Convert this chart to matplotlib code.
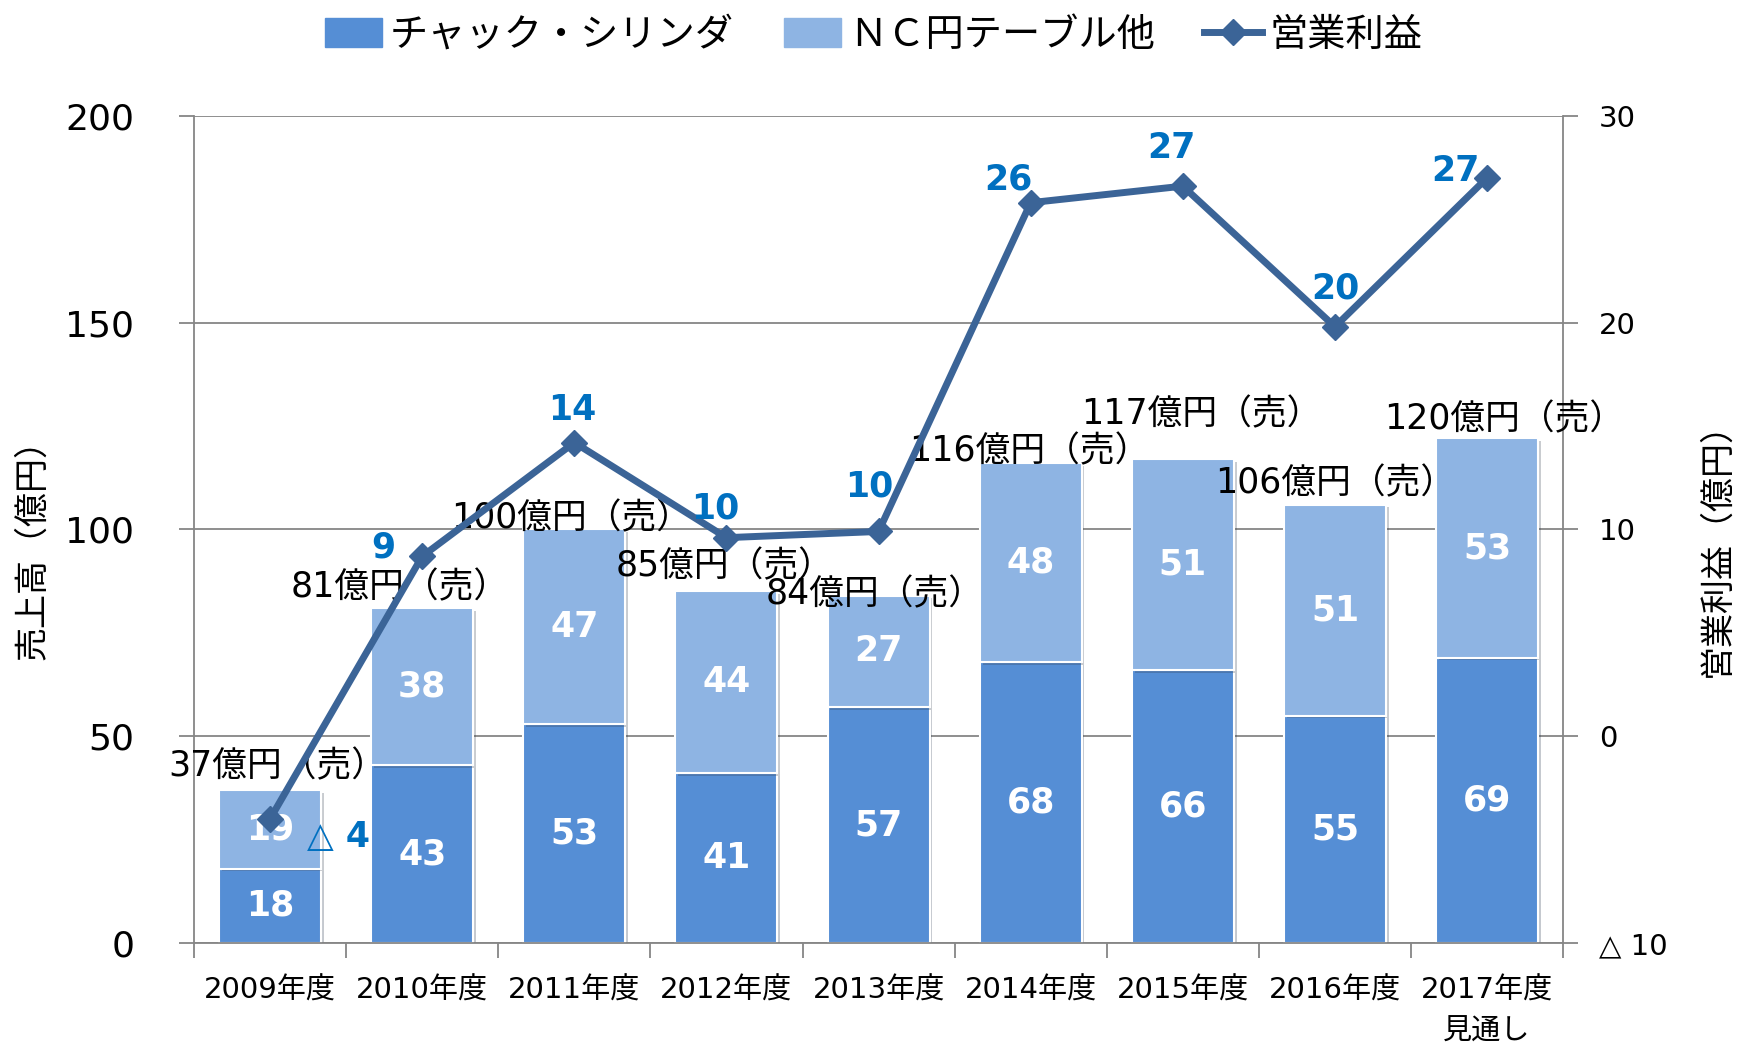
import numpy as np
import matplotlib.pyplot as plt
from matplotlib.patches import Patch
from matplotlib.lines import Line2D
import matplotlib.patheffects as pe

plt.rcParams['font.family'] = ['DejaVu Sans', 'Noto Sans CJK JP']

# データ
years = ['2009年度', '2010年度', '2011年度', '2012年度', '2013年度',
         '2014年度', '2015年度', '2016年度', '2017年度\n見通し']
chuck = [18, 43, 53, 41, 57, 68, 66, 55, 69]
nc_table = [19, 38, 47, 44, 27, 48, 51, 51, 53]
totals = [37, 81, 100, 85, 84, 116, 117, 106, 120]
profit = [-4.0, 8.7, 14.2, 9.6, 9.9, 25.8, 26.6, 19.8, 27.0]
profit_labels = ['△ 4', '9', '14', '10', '10', '26', '27', '20', '27']

# ラベル位置の調整 (pixel)
total_off = [(7, 24), (-23, 21), (-3, 11), (-2, 25), (-4, 1), (-1, 12), (18, 45), (0, 21), (17, 19)]
profit_off = [(68, -18), (-39, 9), (-2, 33), (-11, 29), (-9, 45), (-22, 23), (-11, 38), (0, 38), (-32, 7)]

c_dark = '#558ED5'
c_light = '#8EB4E3'
c_line = '#3B6497'
c_grid = '#868686'
c_blue = '#0070C0'

fig = plt.figure(figsize=(17.37, 10.53), dpi=100)
ax = fig.add_axes([0.1117, 0.1045, 0.7882, 0.7855])
x = np.arange(len(years))
w = 0.67

shadow = [pe.SimplePatchShadow(offset=(2, -2), alpha=0.25), pe.Normal()]
b1 = ax.bar(x, chuck, w, color=c_dark, edgecolor='white', linewidth=1.5, zorder=2)
b2 = ax.bar(x, nc_table, w, bottom=chuck, color=c_light, edgecolor='white', linewidth=1.5, zorder=2)
for b in list(b1) + list(b2):
    b.set_path_effects(shadow)

for i in range(len(x)):
    ax.text(x[i], chuck[i] / 2, str(chuck[i]), ha='center', va='center',
            color='white', fontsize=25, fontweight='bold', zorder=3)
    ax.text(x[i], chuck[i] + nc_table[i] / 2, str(nc_table[i]), ha='center', va='center',
            color='white', fontsize=25, fontweight='bold', zorder=3)
    ax.annotate(f'{totals[i]}億円（売）', (x[i], chuck[i] + nc_table[i]),
                xytext=total_off[i], textcoords='offset pixels',
                ha='center', va='center', fontsize=25, color='black', zorder=4)

ax.set_xlim(-0.5, len(x) - 0.5)
ax.set_ylim(0, 200)
ax.set_yticks([0, 50, 100, 150, 200])
ax.yaxis.grid(True, color=c_grid, linewidth=1.3)
ax.set_axisbelow(True)
ax.set_xticks(np.arange(len(x) + 1) - 0.5, minor=False)
ax.set_xticklabels([])
ax.set_xticks(x, minor=True)
ax.set_xticklabels(years, minor=True, fontsize=21, linespacing=1.6, va='top')
ax.tick_params(axis='x', which='minor', length=0, pad=24)
ax.tick_params(axis='x', which='major', length=11, width=1.3, color=c_grid)
ax.tick_params(axis='y', labelsize=26, length=11, width=1.3, color=c_grid, pad=32)
for s in ['left', 'bottom', 'right']:
    ax.spines[s].set_color(c_grid)
    ax.spines[s].set_linewidth(1.3)
ax.spines['top'].set_visible(False)

ax2 = ax.twinx()
ax2.set_ylim(-10, 30)
ax2.set_yticks([-10, 0, 10, 20, 30])
ax2.set_yticklabels(['△ 10', '0', '10', '20', '30'])
ax2.tick_params(axis='y', labelsize=21, length=11, width=1.3, color=c_grid, pad=15)
for s in ax2.spines.values():
    s.set_visible(False)
ax2.plot(x, profit, color=c_line, linewidth=5, marker='D', markersize=13, zorder=5)
for i in range(len(x)):
    ax2.annotate(profit_labels[i], (x[i], profit[i]), xytext=profit_off[i],
                 textcoords='offset pixels', ha='center', va='center',
                 fontsize=25, fontweight='bold', color=c_blue, zorder=6)

# 軸ラベル
fig.text(33 / 1737, 1 - 541 / 1053, '売上高（億円）', rotation=90,
         ha='center', va='center', fontsize=24.5)
fig.text(1717 / 1737, 1 - 541 / 1053, '営業利益（億円）', rotation=90,
         ha='center', va='center', fontsize=24.5)

handles = [Patch(color=c_dark), Patch(color=c_light),
           Line2D([0], [0], color=c_line, linewidth=5, marker='D', markersize=13)]
fig.legend(handles, ['チャック・シリンダ', 'ＮＣ円テーブル他', '営業利益'],
           loc='center', bbox_to_anchor=(0.503, 0.966), ncol=3, frameon=False,
           fontsize=27.5, handlelength=1.5, handleheight=0.8, handletextpad=0.2,
           columnspacing=1.3)

fig.savefig('out.png', dpi=100)
